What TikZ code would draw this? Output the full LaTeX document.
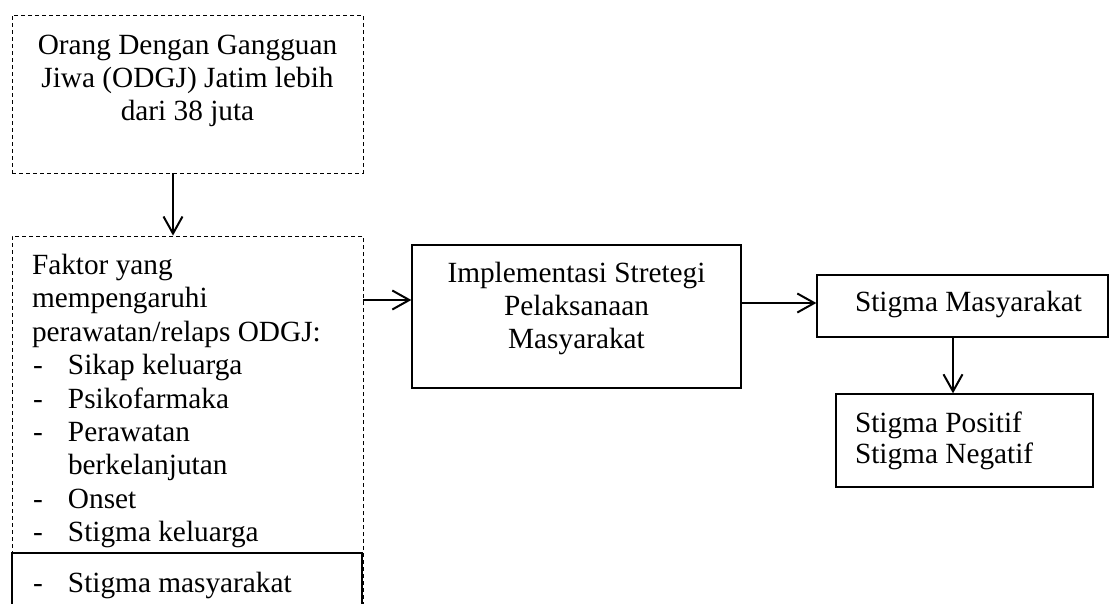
\documentclass[tikz,border=0pt]{standalone}
\usepackage{fontspec}
\setmainfont{Liberation Serif}
\usetikzlibrary{arrows.meta}
\begin{document}
\begin{tikzpicture}[x=1pt,y=-1pt,
  font=\fontsize{29.3}{33.4}\selectfont,
  dbox/.style={draw, dash pattern=on 4pt off 3pt, line width=0.9pt, inner sep=0, fill=none},
  sbox/.style={draw, line width=1.3pt, inner sep=0},
  txt/.style={inner sep=0, outer sep=0},
  arr/.style={line width=2pt, -{Straight Barb[length=17pt,width=19pt,line width=2pt]}}]
\useasboundingbox (0,0) rectangle (1110,603);
\clip (0,0) rectangle (1110,603);
% boxes
\node[dbox, minimum width=351pt, minimum height=158pt] (top) at (187.5,94) {};
\node[dbox, minimum width=351pt, minimum height=404pt] (fak) at (187.5,438) {};
\node[sbox, minimum width=350pt, minimum height=87pt] (fakb) at (187,596.5) {};
\node[sbox, minimum width=329pt, minimum height=143pt] (impl) at (576.5,316.5) {};
\node[sbox, minimum width=291pt, minimum height=62pt] (sm) at (962.5,306) {};
\node[sbox, minimum width=257pt, minimum height=93pt] (sp) at (964.5,440.5) {};
% texts
\node[txt, anchor=base] (toptxt) at (187.5,54) {\begin{tabular}[t]{@{}c@{}}Orang Dengan Gangguan\\Jiwa (ODGJ) Jatim lebih\\dari 38 juta\end{tabular}};
\node[txt, anchor=base west] (faktxt) at (32,274.5) {\begin{tabular}[t]{@{}l@{}l@{}}
\multicolumn{2}{@{}l@{}}{Faktor yang}\\
\multicolumn{2}{@{}l@{}}{mempengaruhi}\\
\multicolumn{2}{@{}l@{}}{perawatan/relaps ODGJ:}\\
\makebox[36pt][l]{\hspace{1pt}-} & Sikap keluarga\\
\makebox[36pt][l]{\hspace{1pt}-} & Psikofarmaka\\
\makebox[36pt][l]{\hspace{1pt}-} & Perawatan\\
 & berkelanjutan\\
\makebox[36pt][l]{\hspace{1pt}-} & Onset\\
\makebox[36pt][l]{\hspace{1pt}-} & Stigma keluarga
\end{tabular}};
\node[txt, anchor=base west] (fakbtxt) at (32,592.3) {\makebox[36pt][l]{\hspace{1pt}-}Stigma masyarakat};
\node[txt, anchor=base] (impltxt) at (576.5,282) {\begin{tabular}[t]{@{}c@{}}Implementasi Stretegi\\Pelaksanaan\\Masyarakat\end{tabular}};
\node[txt, anchor=base west] (smtxt) at (855,311) {Stigma Masyarakat};
\node[txt, anchor=base west] (sptxt) at (855,432.5) {\renewcommand{\arraystretch}{0.93}\begin{tabular}[t]{@{}l@{}}Stigma Positif\\Stigma Negatif\end{tabular}};
% arrows
\coordinate (a1) at (173,0);
\coordinate (a2) at (0,300);
\coordinate (a3) at (0,303);
\coordinate (a4) at (953,0);
\draw[arr] (top.south -| a1) -- (fak.north -| a1);
\draw[arr] (fak.east |- a2) -- (impl.west |- a2);
\draw[arr] (impl.east |- a3) -- (sm.west |- a3);
\draw[arr] (sm.south -| a4) -- (sp.north -| a4);
\end{tikzpicture}
\end{document}
